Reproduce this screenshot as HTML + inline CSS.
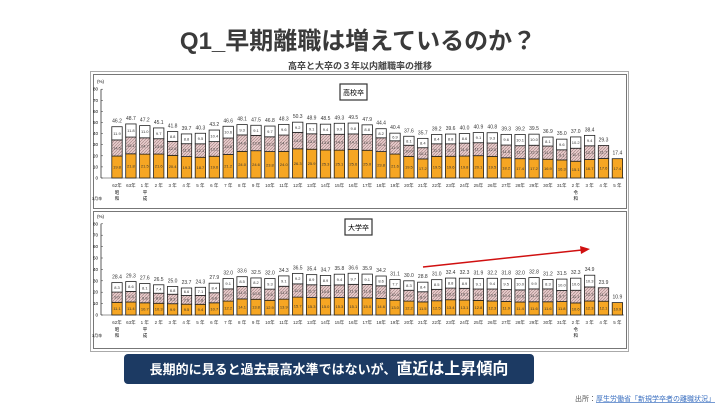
<!DOCTYPE html>
<html><head><meta charset="utf-8"><style>
body{margin:0;width:720px;height:405px;background:#fff;overflow:hidden;font-family:"Liberation Sans","Noto Sans CJK JP",sans-serif;}
</style></head><body>
<svg id="s" width="720" height="405" xmlns="http://www.w3.org/2000/svg" font-family="Liberation Sans, Noto Sans CJK JP, sans-serif">
<defs>
<pattern id="h" width="3" height="3" patternUnits="userSpaceOnUse"><rect width="3" height="3" fill="#e8cccc"/><path d="M0 3L3 0" stroke="#a88888" stroke-width="0.7"/></pattern>
</defs>
<text x="358" y="49" font-size="24" font-weight="bold" fill="#3a3a3a" text-anchor="middle">Q1_早期離職は増えているのか？</text>
<text x="360" y="69" font-size="9" font-weight="bold" fill="#444" text-anchor="middle">高卒と大卒の３年以内離職率の推移</text>
<rect x="90.5" y="71.5" width="538" height="280" fill="#fff" stroke="#aaa"/>
<rect x="93.5" y="74.5" width="533" height="134" fill="none" stroke="#777"/>
<rect x="93.5" y="211.5" width="533" height="137" fill="none" stroke="#777"/>
<g id="g1"></g><g id="g2"></g>
<rect x="340" y="84" width="27" height="16" fill="#fff" stroke="#333" stroke-width="1.2"/><text x="353.5" y="95" font-size="7" text-anchor="middle">高校卒</text>
<rect x="345" y="219" width="27" height="16" fill="#fff" stroke="#333" stroke-width="1.2"/><text x="358.5" y="230" font-size="7" text-anchor="middle">大学卒</text>
<line x1="423" y1="267" x2="582" y2="250" stroke="#d01010" stroke-width="1.5"/><path d="M590 249L580 246L581 254Z" fill="#d01010"/>
<rect x="124" y="354" width="410" height="30" rx="4" fill="#1c3a63"/>
<text x="329" y="374" font-size="13" font-weight="bold" fill="#fff" text-anchor="middle">長期的に見ると過去最高水準ではないが、<tspan font-size="16">直近は上昇傾向</tspan></text>
<text x="715" y="401" font-size="7" fill="#555" text-anchor="end">出所：<tspan fill="#3a6fc0" text-decoration="underline">厚生労働省「新規学卒者の離職状況」</tspan></text>
</svg>
<script>
var T1=[46.2,48.7,47.2,45.1,41.8,39.7,40.3,43.2,46.6,48.1,47.5,46.8,48.3,50.3,48.9,48.5,49.3,49.5,47.9,44.4,40.4,37.6,35.7,39.2,39.6,40.0,40.9,40.8,39.3,39.2,39.5,36.9,35.0,37.0,38.4,29.3,17.4];
var A1=[19.8,21.8,21.5,21.6,20.4,19.3,18.7,19.6,21.2,24.0,24.6,23.8,24.0,26.3,25.9,25.3,25.1,25.6,25.0,23.8,21.6,19.5,17.2,19.5,19.6,19.8,20.1,19.5,18.2,17.4,17.2,16.9,16.3,15.1,16.7,17.6,17.4];
var C1=[11.9,11.8,11.0,9.7,8.8,8.8,9.5,10.4,10.6,9.3,9.1,9.7,9.6,9.2,9.1,9.4,9.9,9.8,8.8,8.2,6.9,8.1,8.4,8.4,8.8,8.6,9.1,9.3,9.6,10.1,10.0,8.1,9.6,10.2,9.4,0,0];
var T2=[28.4,29.3,27.6,26.5,25.0,23.7,24.3,27.9,32.0,33.6,32.5,32.0,34.3,36.5,35.4,34.7,35.8,36.6,35.9,34.2,31.1,30.0,28.8,31.0,32.4,32.3,31.9,32.2,31.8,32.0,32.8,31.2,31.5,32.3,34.9,23.9,10.9];
var A2=[11.1,11.4,10.7,10.3,9.9,9.5,9.4,10.7,12.2,14.1,13.8,12.9,13.9,15.7,15.3,15.0,15.3,15.1,15.0,14.6,13.0,12.2,11.5,12.5,13.4,13.1,12.8,12.3,11.9,11.4,11.6,11.6,11.8,10.6,12.3,12.1,10.9];
var C2=[8.3,8.6,8.1,7.4,6.8,6.6,7.1,8.4,9.1,8.5,8.2,9.3,9.1,9.2,8.9,8.9,9.4,9.7,9.1,8.6,7.7,8.3,8.4,8.5,8.8,8.9,9.1,9.4,9.5,10.0,9.9,8.3,10.0,10.6,10.3,0,0];
var L=["62年","63年","1 年","2 年","3 年","4 年","5 年","6 年","7 年","8 年","9 年","10年","11年","12年","13年","14年","15年","16年","17年","18年","19年","20年","21年","22年","23年","24年","25年","26年","27年","28年","29年","30年","31年","2 年","3 年","4 年","5 年"];
function draw(id,T,A,C,y0,k){
 var s='';
 s+='<line x1="101" y1="'+(y0-80*k)+'" x2="101" y2="'+y0+'" stroke="#333" stroke-width="0.8"/>';
 s+='<text x="97" y="'+(y0-80*k-6)+'" font-size="4.5">(%)</text>';
 for(var v=0;v<=80;v+=10){var y=y0-v*k;s+='<text x="98" y="'+(y+1.5)+'" font-size="4.5" text-anchor="end">'+v+'</text><line x1="101" y1="'+y+'" x2="103" y2="'+y+'" stroke="#333" stroke-width="0.5"/>';}
 s+='<line x1="101" y1="'+y0+'" x2="624" y2="'+y0+'" stroke="#333" stroke-width="0.6"/>';
 for(var i=0;i<37;i++){
  var cx=117+i*13.9,x=cx-5.2,w=10.4,a=A[i],c=C[i],b=+(T[i]-a-c).toFixed(1);
  var ya=y0-a*k,yb=ya-b*k,yc=yb-c*k;
  s+='<rect x="'+x+'" y="'+ya+'" width="'+w+'" height="'+(a*k)+'" fill="#f6a623" stroke="#222" stroke-width="0.8"/>';
  if(b>0.05)s+='<rect x="'+x+'" y="'+yb+'" width="'+w+'" height="'+(b*k)+'" fill="url(#h)" stroke="#222" stroke-width="0.8"/>';
  if(c>0)s+='<rect x="'+x+'" y="'+yc+'" width="'+w+'" height="'+(c*k)+'" fill="#fff" stroke="#222" stroke-width="0.8"/>';
  s+='<text x="'+cx+'" y="'+(ya+a*k/2+1.5)+'" font-size="4" text-anchor="middle" fill="#333">'+a.toFixed(1)+'</text>';
  if(b>0.05)s+='<text x="'+cx+'" y="'+(yb+b*k/2+1.5)+'" font-size="4" text-anchor="middle" fill="#444">'+b.toFixed(1)+'</text>';
  if(c>0)s+='<text x="'+cx+'" y="'+(yc+c*k/2+1.5)+'" font-size="4" text-anchor="middle" fill="#333">'+c.toFixed(1)+'</text>';
  s+='<text x="'+cx+'" y="'+(yc-4)+'" font-size="5" text-anchor="middle" fill="#333">'+T[i].toFixed(1)+'</text>';
  s+='<text x="'+cx+'" y="'+(y0+9)+'" font-size="4.5" text-anchor="middle" fill="#333">'+L[i]+'</text>';
 }
 var by=y0+16;
 s+='<text x="117" y="'+by+'" font-size="4.5" text-anchor="middle">昭</text><text x="117" y="'+(by+6)+'" font-size="4.5" text-anchor="middle">和</text>';
 s+='<text x="145" y="'+by+'" font-size="4.5" text-anchor="middle">平</text><text x="145" y="'+(by+6)+'" font-size="4.5" text-anchor="middle">成</text>';
 s+='<text x="575.7" y="'+by+'" font-size="4.5" text-anchor="middle">令</text><text x="575.7" y="'+(by+6)+'" font-size="4.5" text-anchor="middle">和</text>';
 s+='<text x="97" y="'+(by+6)+'" font-size="4" text-anchor="middle">3月卒</text>';
 document.getElementById(id).innerHTML=s;
}
draw('g1',T1,A1,C1,178,1.11);
draw('g2',T2,A2,C2,315,1.14);
</script>
</body></html>
